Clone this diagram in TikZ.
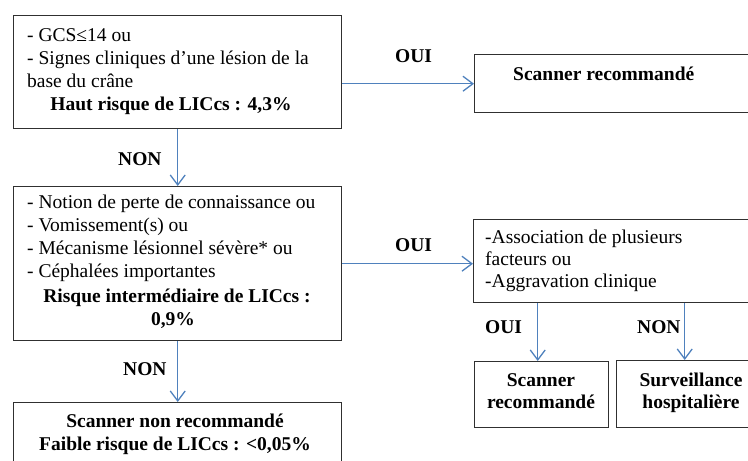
\documentclass[tikz,border=0pt]{standalone}
\usepackage{fontspec}
\setmainfont{Liberation Serif}
\usetikzlibrary{arrows.meta}
\definecolor{arrblue}{HTML}{4F81BD}
\definecolor{boxgray}{HTML}{303030}
\tikzset{
  box/.style={draw=boxgray, line width=1.4pt, rectangle, inner sep=0pt, anchor=north west},
  txt/.style={inner sep=0pt, font=\fontsize{19.5}{23}\selectfont},
  btxt/.style={inner sep=0pt, font=\fontsize{19.5}{23}\selectfont\bfseries},
  arr/.style={draw=arrblue, line width=1.3pt, -{Straight Barb[length=10pt,width=15pt,line width=1.3pt]}},
}
\begin{document}
\begin{tikzpicture}[x=1pt,y=-1pt]
\useasboundingbox (0,0) rectangle (748,461);
% boxes
\node[box, minimum width=328pt, minimum height=113pt] (b1) at (13,15) {};
\node[box, minimum width=290pt, minimum height=58pt] (s1) at (474,54) {};
\node[box, minimum width=328pt, minimum height=154pt] (b2) at (13,186) {};
\node[box, minimum width=290pt, minimum height=83pt] (b3) at (473,219) {};
\node[box, minimum width=134pt, minimum height=66pt] (b4) at (474,361) {};
\node[box, minimum width=150pt, minimum height=67pt] (b5) at (616,360) {};
\node[box, minimum width=328pt, minimum height=80pt] (b6) at (13,402) {};
% box 1 text
\node[txt, anchor=base west] (t1a) at (27,41) {- GCS≤14 ou};
\node[txt, anchor=base west] (t1b) at (27,64) {- Signes cliniques d’une lésion de la};
\node[txt, anchor=base west] (t1c) at (27,87) {base du crâne};
\node[btxt, anchor=base] (t1d) at (171,110) {Haut risque de LICcs : 4,3\%};
% scanner recommande
\node[btxt, anchor=base west] (ts1) at (513,80) {Scanner recommandé};
% box 2 text
\node[txt, anchor=base west] (t2a) at (27,208) {- Notion de perte de connaissance ou};
\node[txt, anchor=base west] (t2b) at (27,231) {- Vomissement(s) ou};
\node[txt, anchor=base west] (t2c) at (27,254) {- Mécanisme lésionnel sévère* ou};
\node[txt, anchor=base west] (t2d) at (27,277) {- Céphalées importantes};
\node[btxt, anchor=base] (t2e) at (177,302) {Risque intermédiaire de LICcs :};
\node[btxt, anchor=base] (t2f) at (173,325) {0,9\%};
% box 3 text
\node[txt, anchor=base west] (t3a) at (485,243) {-Association de plusieurs};
\node[txt, anchor=base west] (t3b) at (485,265) {facteurs ou};
\node[txt, anchor=base west] (t3c) at (485,287) {-Aggravation clinique};
% box 4, 5 text
\node[btxt, anchor=base] (t4a) at (541,386) {Scanner};
\node[btxt, anchor=base] (t4b) at (541,408) {recommandé};
\node[btxt, anchor=base] (t5a) at (691,386) {Surveillance};
\node[btxt, anchor=base] (t5b) at (691,408) {hospitalière};
% box 6 text
\node[btxt, anchor=base] (t6a) at (175,427) {Scanner non recommandé};
\node[btxt, anchor=base] (t6b) at (175,450) {Faible risque de LICcs : <0,05\%};
% labels
\node[btxt, anchor=base west] (l1) at (395,62) {OUI};
\node[btxt, anchor=base west] (l2) at (118,165) {NON};
\node[btxt, anchor=base west] (l3) at (395,251) {OUI};
\node[btxt, anchor=base west] (l4) at (123,375) {NON};
\node[btxt, anchor=base west] (l5) at (485,333) {OUI};
\node[btxt, anchor=base west] (l6) at (637,333) {NON};
% arrows
\draw[arr] (s1.west -| b1.east) -- (s1.west);
\draw[arr] (b1.south) -- (b2.north);
\draw[arr] (b2.east) -- (b2.east -| b3.west);
\draw[arr] (b2.south) -- (b6.north);
\draw[arr] ([xshift=-4pt]b4.north |- b3.south) -- ([xshift=-4pt]b4.north);
\draw[arr] ([xshift=-7pt]b5.north |- b3.south) -- ([xshift=-7pt]b5.north);
\end{tikzpicture}
\end{document}
